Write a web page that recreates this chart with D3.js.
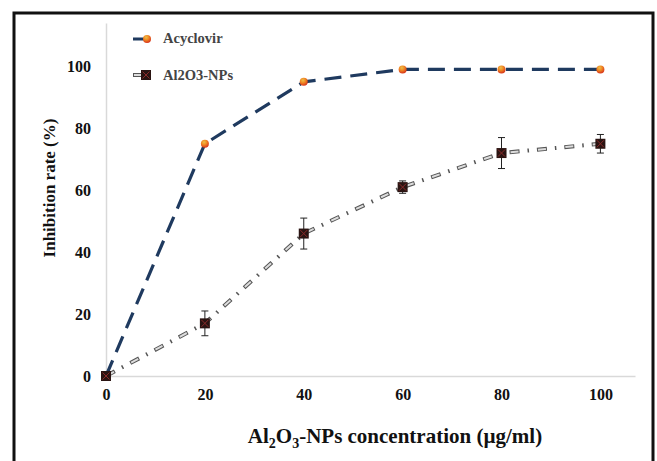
<!DOCTYPE html>
<html>
<head>
<meta charset="utf-8">
<script src="https://cdn.jsdelivr.net/npm/d3@7"></script>
<style>
  body { margin: 0; background: #fff; }
  svg text { font-family: "Liberation Serif", "Times New Roman", serif; font-weight: bold; }
</style>
</head>
<body>
<div id="chart"></div>
<script>
// concentrations (µg/ml)
var concentrations = [0, 20, 40, 60, 80, 100];
var acyclovir = [0, 75, 95, 99, 99, 99];
var al2o3 = [0, 17, 46, 61, 72, 75];
var al2o3Err = [0, 4, 5, 2, 5, 3];
var xTicks = [0, 20, 40, 60, 80, 100];
var yTicks = [0, 20, 40, 60, 80, 100];

var width = 657, height = 461;
var svg = d3.select('#chart').append('svg')
    .attr('width', width)
    .attr('height', height);

// outer frame
svg.append('rect')
    .attr('x', 14).attr('y', 13)
    .attr('width', 639).attr('height', 470)
    .attr('fill', 'none')
    .attr('stroke', '#111')
    .attr('stroke-width', 3);

var x = d3.scaleLinear().domain([0, 107]).range([106, 635]);
var y = d3.scaleLinear().domain([0, 114]).range([376, 23]);

var defs = svg.append('defs');
var grad = defs.append('radialGradient')
    .attr('id', 'ball').attr('cx', '40%').attr('cy', '30%').attr('r', '70%');
grad.append('stop').attr('offset', '0%').attr('stop-color', '#e9c04a');
grad.append('stop').attr('offset', '45%').attr('stop-color', '#f08a24');
grad.append('stop').attr('offset', '100%').attr('stop-color', '#d8351a');

// axes lines (light gray, no ticks)
var xAxis = svg.append('g')
    .attr('transform', 'translate(0,' + y(0) + ')')
    .call(d3.axisBottom(x).tickValues(xTicks).tickSize(0).tickPadding(13));
var yAxis = svg.append('g')
    .attr('transform', 'translate(' + x(0) + ',0)')
    .call(d3.axisLeft(y).tickValues(yTicks).tickSize(0).tickPadding(15));

[xAxis, yAxis].forEach(function (a) {
  a.select('.domain').attr('stroke', '#d9d9d9').attr('stroke-width', 1.5);
  a.selectAll('text')
      .attr('font-size', '16px')
      .attr('fill', '#111');
});

var line = d3.line()
    .x(function (d) { return x(d[0]); })
    .y(function (d) { return y(d[1]); });

var acyData = concentrations.map(function (c, i) { return [c, acyclovir[i]]; });
var alData = concentrations.map(function (c, i) { return [c, al2o3[i]]; });

// Al2O3 dash-dot line: outlined gray dash + black dot
svg.append('path')
    .datum(alData)
    .attr('d', line)
    .attr('fill', 'none')
    .attr('stroke', '#555')
    .attr('stroke-width', 4)
    .attr('stroke-dasharray', '10,8,1.5,8');
svg.append('path')
    .datum(alData)
    .attr('d', line)
    .attr('fill', 'none')
    .attr('stroke', '#ddd')
    .attr('stroke-width', 2)
    .attr('stroke-dasharray', '0,1,8,18.5');

// error bars
var eb = svg.selectAll('.err')
    .data(concentrations.map(function (c, i) { return {c: c, v: al2o3[i], e: al2o3Err[i]}; })
          .filter(function (d) { return d.e > 0; }))
    .enter().append('g').attr('class', 'err')
    .attr('stroke', '#222').attr('stroke-width', 1);
eb.append('line')
    .attr('x1', function (d) { return x(d.c); })
    .attr('x2', function (d) { return x(d.c); })
    .attr('y1', function (d) { return y(d.v + d.e); })
    .attr('y2', function (d) { return y(d.v - d.e); });
eb.append('line')
    .attr('x1', function (d) { return x(d.c) - 3.5; })
    .attr('x2', function (d) { return x(d.c) + 3.5; })
    .attr('y1', function (d) { return y(d.v + d.e); })
    .attr('y2', function (d) { return y(d.v + d.e); });
eb.append('line')
    .attr('x1', function (d) { return x(d.c) - 3.5; })
    .attr('x2', function (d) { return x(d.c) + 3.5; })
    .attr('y1', function (d) { return y(d.v - d.e); })
    .attr('y2', function (d) { return y(d.v - d.e); });

// Acyclovir dashed line
svg.append('path')
    .datum(acyData)
    .attr('d', line)
    .attr('fill', 'none')
    .attr('stroke', '#1f3a5f')
    .attr('stroke-width', 3.2)
    .attr('stroke-dasharray', '17,9');

function squareMarker(g, cx, cy) {
  g.append('rect')
      .attr('x', cx - 5).attr('y', cy - 5)
      .attr('width', 10).attr('height', 10)
      .attr('fill', '#2a1412');
  g.append('path')
      .attr('d', 'M' + (cx - 3.5) + ',' + (cy - 3.5) + 'L' + (cx + 3.5) + ',' + (cy + 3.5) +
                 'M' + (cx + 3.5) + ',' + (cy - 3.5) + 'L' + (cx - 3.5) + ',' + (cy + 3.5))
      .attr('stroke', '#8a2a2a').attr('stroke-width', 1);
}

alData.forEach(function (d) {
  squareMarker(svg.append('g'), x(d[0]), y(d[1]));
});

svg.selectAll('.acy')
    .data(acyData.slice(1))
    .enter().append('circle')
    .attr('class', 'acy')
    .attr('cx', function (d) { return x(d[0]); })
    .attr('cy', function (d) { return y(d[1]); })
    .attr('r', 4)
    .attr('fill', 'url(#ball)');

// legend
var legend = svg.append('g');
legend.append('line')
    .attr('x1', 133).attr('x2', 147).attr('y1', 39).attr('y2', 39)
    .attr('stroke', '#1f3a5f').attr('stroke-width', 3);
legend.append('circle').attr('cx', 147).attr('cy', 39).attr('r', 4).attr('fill', 'url(#ball)');
legend.append('text').attr('x', 163).attr('y', 43)
    .attr('font-size', '14.5px').attr('fill', '#444').text('Acyclovir');

legend.append('line')
    .attr('x1', 133).attr('x2', 143).attr('y1', 75).attr('y2', 75)
    .attr('stroke', '#555').attr('stroke-width', 4);
legend.append('line')
    .attr('x1', 134).attr('x2', 142).attr('y1', 75).attr('y2', 75)
    .attr('stroke', '#ddd').attr('stroke-width', 2);
squareMarker(legend, 146, 75);
legend.append('text').attr('x', 163).attr('y', 80)
    .attr('font-size', '14.5px').attr('fill', '#444').text('Al2O3-NPs');

// axis titles
svg.append('text')
    .attr('transform', 'translate(55,188) rotate(-90)')
    .attr('text-anchor', 'middle')
    .attr('font-size', '17px')
    .attr('fill', '#111')
    .text('Inhibition rate (%)');

var xt = svg.append('text')
    .attr('x', 395).attr('y', 443)
    .attr('text-anchor', 'middle')
    .attr('font-size', '21px')
    .attr('fill', '#111');
xt.append('tspan').text('Al');
xt.append('tspan').attr('dy', 5).attr('font-size', '14px').text('2');
xt.append('tspan').attr('dy', -5).text('O');
xt.append('tspan').attr('dy', 5).attr('font-size', '14px').text('3');
xt.append('tspan').attr('dy', -5).text('-NPs concentration (µg/ml)');
</script>
</body>
</html>
